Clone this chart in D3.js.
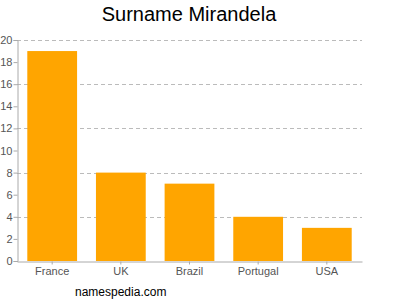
<!DOCTYPE html>
<html><head><meta charset="utf-8">
<script src="https://cdn.jsdelivr.net/npm/d3@7"></script>
<style>body{margin:0;background:#fff}svg{display:block}</style>
</head><body>
<script>
const categories = ["France","UK","Brazil","Portugal","USA"];
const values = [19, 8, 7, 4, 3];
const yTicks = [0,2,4,6,8,10,12,14,16,18,20];
const gridTicks = [4,8,12,16,20];
const title = "Surname Mirandela";
const credit = "namespedia.com";

const W=400,H=300;
const m={left:17,right:38,top:40,bottom:39};
const svg=d3.select("body").append("svg").attr("width",W).attr("height",H);
const x=d3.scaleBand().domain(categories).range([m.left,W-m.right]).paddingInner(0.275).paddingOuter(0.15);
const y=d3.scaleLinear().domain([0,20]).range([H-m.bottom,m.top]);

svg.append("g").selectAll("line").data(gridTicks).join("line")
  .attr("x1",m.left).attr("x2",W-m.right)
  .attr("y1",d=>Math.round(y(d))+0.5).attr("y2",d=>Math.round(y(d))+0.5)
  .attr("stroke","#bbb").attr("stroke-dasharray","4,3");

svg.append("g").selectAll("rect").data(values).join("rect")
  .attr("x",(d,i)=>x(categories[i])).attr("width",x.bandwidth())
  .attr("y",d=>y(d)).attr("height",d=>y(0)-y(d)).attr("fill","#FFA500");

const ya=svg.append("g").attr("transform",`translate(${m.left+0.5},0)`)
  .call(d3.axisLeft(y).tickValues(yTicks).tickSize(4).tickPadding(1));
ya.select(".domain").attr("stroke","#aaa");
ya.selectAll(".tick line").attr("stroke","#aaa");
ya.selectAll("text").attr("fill","#555").style("font-family","Liberation Sans, Arial, sans-serif").style("font-size","11px");

const xa=svg.append("g").attr("transform",`translate(0,${H-m.bottom+0.5})`)
  .call(d3.axisBottom(x).tickSize(3).tickSizeOuter(0).tickPadding(3));
xa.select(".domain").attr("stroke","#aaa");
xa.selectAll(".tick line").attr("stroke","#aaa");
xa.selectAll("text").attr("fill","#555").style("font-family","Liberation Sans, Arial, sans-serif").style("font-size","11px");

svg.append("text").attr("x",189).attr("y",21).attr("text-anchor","middle")
  .style("font-family","Liberation Sans, Arial, sans-serif").style("font-size","20px").attr("fill","#000").text(title);
svg.append("text").attr("x",75).attr("y",296)
  .style("font-family","Liberation Sans, Arial, sans-serif").style("font-size","12px").attr("fill","#000").text(credit);
</script>
</body></html>
